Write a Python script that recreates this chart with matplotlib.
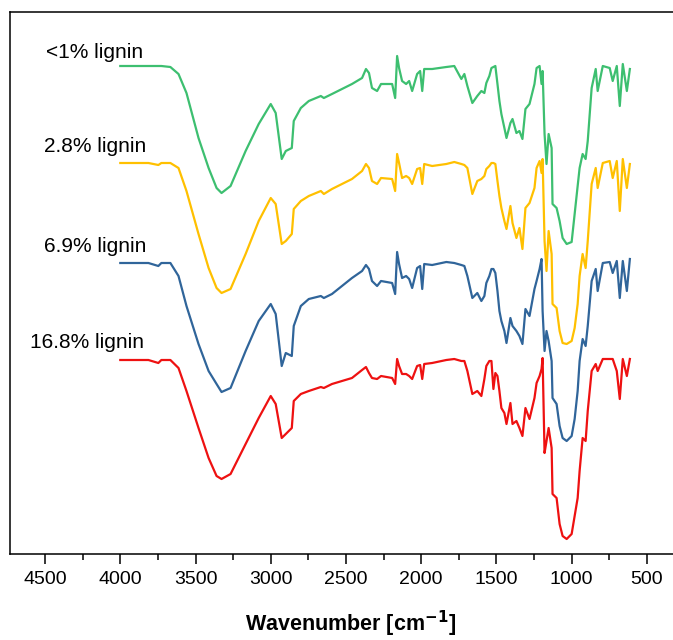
import matplotlib
matplotlib.use("Agg")
import matplotlib.pyplot as plt
from matplotlib.ticker import MultipleLocator

plt.rcParams["font.family"] = ["Liberation Sans", "DejaVu Sans"]

# FTIR spectra, stacked, transmittance in arbitrary units
WAVENUMBER = [4000, 3813, 3747, 3727, 3667, 3613, 3560, 3480, 3413, 3360,
              3327, 3267, 3167, 3080, 3000, 2967, 2927, 2900, 2860, 2847,
              2800, 2747, 2667, 2647, 2593, 2460, 2393, 2367, 2347, 2327,
              2293, 2267, 2193, 2173, 2160, 2147, 2127, 2100, 2080, 2060,
              2027, 2007, 1993, 1980, 1927, 1833, 1780, 1733, 1713, 1693,
              1660, 1627, 1600, 1580, 1567, 1547, 1533, 1520, 1507, 1493,
              1480, 1467, 1447, 1433, 1407, 1393, 1367, 1347, 1327, 1307,
              1280, 1247, 1233, 1213, 1200, 1193, 1180, 1167, 1153, 1133,
              1127, 1100, 1080, 1060, 1033, 1000, 980, 960, 947, 927,
              907, 893, 867, 840, 827, 793, 747, 727, 700, 680,
              660, 633, 613]

T_LT1 = [488, 488, 488, 488, 487, 480, 461, 416, 386, 366,
         361, 368, 403, 430, 450, 441, 395, 403, 406, 433,
         446, 453, 458, 456, 460, 470, 476, 485, 481, 466,
         463, 470, 470, 456, 498, 486, 473, 470, 473, 463,
         480, 483, 463, 485, 485, 487, 488, 475, 480, 468,
         451, 458, 463, 461, 471, 478, 486, 487, 488, 470,
         453, 440, 426, 416, 431, 435, 421, 423, 415, 445,
         450, 470, 486, 488, 470, 483, 420, 390, 420, 406,
         350, 346, 333, 316, 310, 312, 340, 368, 386, 400,
         395, 413, 466, 485, 463, 488, 486, 473, 488, 448,
         490, 463, 485]

T_2_8 = [391, 391, 389, 391, 391, 386, 363, 320, 286, 266,
         261, 265, 300, 333, 356, 350, 310, 313, 320, 345,
         353, 358, 363, 360, 365, 375, 383, 390, 386, 373,
         370, 376, 375, 363, 400, 391, 376, 378, 376, 370,
         385, 386, 370, 390, 388, 390, 392, 390, 389, 386,
         360, 373, 375, 378, 385, 388, 391, 391, 390, 373,
         358, 346, 333, 325, 348, 331, 316, 326, 305, 346,
         351, 366, 386, 393, 381, 395, 313, 283, 323, 300,
         250, 246, 223, 211, 210, 213, 226, 250, 278, 300,
         286, 313, 370, 386, 366, 391, 393, 376, 393, 343,
         395, 366, 390]

T_6_9 = [291, 291, 288, 291, 291, 278, 248, 210, 183, 170,
         162, 166, 203, 233, 250, 240, 188, 201, 198, 228,
         248, 255, 258, 256, 260, 276, 283, 289, 285, 273,
         268, 273, 271, 260, 302, 290, 276, 278, 275, 266,
         286, 288, 265, 290, 289, 292, 291, 289, 288, 278,
         256, 261, 253, 258, 271, 278, 285, 285, 281, 263,
         243, 233, 223, 211, 236, 228, 223, 218, 210, 245,
         238, 265, 273, 285, 295, 243, 203, 223, 213, 193,
         156, 150, 128, 116, 113, 118, 135, 163, 193, 215,
         208, 228, 273, 285, 263, 291, 292, 281, 293, 256,
         293, 263, 295]

T_16_8 = [194, 194, 191, 194, 194, 186, 163, 126, 96, 78,
          75, 80, 110, 136, 158, 150, 116, 120, 126, 153,
          160, 163, 167, 166, 170, 176, 184, 187, 181, 176,
          175, 178, 176, 170, 195, 188, 180, 180, 178, 175,
          188, 189, 175, 190, 191, 194, 195, 193, 193, 183,
          160, 163, 158, 175, 188, 193, 193, 165, 181, 178,
          163, 146, 141, 130, 151, 130, 133, 126, 118, 146,
          135, 156, 171, 178, 185, 196, 101, 113, 126, 106,
          60, 56, 30, 18, 15, 20, 38, 56, 83, 116,
          113, 143, 183, 190, 183, 195, 195, 195, 183, 155,
          195, 178, 195]

LABELS = ["<1% lignin", "2.8% lignin", "6.9% lignin", "16.8% lignin"]
SERIES = [T_LT1, T_2_8, T_6_9, T_16_8]
COLORS = ["#3dbf70", "#ffc000", "#30659a", "#ee1111"]
# label anchors (wavenumber, a.u.)
LABEL_POS = [(4170, 501), (4170, 408), (4170, 308), (4220, 211)]

fig = plt.figure(figsize=(6.73, 6.40), dpi=100)
# right spine sits just past the canvas edge, as in the original crop
ax = fig.add_axes([10 / 673, 86 / 640, 682 / 673, 542 / 640])

for lab, ys, c, (lx, ly) in zip(LABELS, SERIES, COLORS, LABEL_POS):
    ax.plot(WAVENUMBER, ys, color=c, lw=1.6)
    ax.text(lx, ly, lab, ha="center", va="center", fontsize=15)

ax.set_xlim(4733, 200)
ax.set_ylim(0, 542)
ax.set_yticks([])
ax.xaxis.set_major_locator(MultipleLocator(500))
ax.xaxis.set_minor_locator(MultipleLocator(250))
ax.tick_params(axis="x", which="major", direction="out", length=7.5, width=1.1, labelsize=14, pad=5)
ax.tick_params(axis="x", which="minor", direction="out", length=4, width=1.1)
for s in ax.spines.values():
    s.set_linewidth(1.1)
ax.set_xlabel("Wavenumber [cm$^{\\mathbf{-1}}$]", fontsize=15.5, fontweight="bold", labelpad=15)

fig.savefig("out.png", dpi=100)
